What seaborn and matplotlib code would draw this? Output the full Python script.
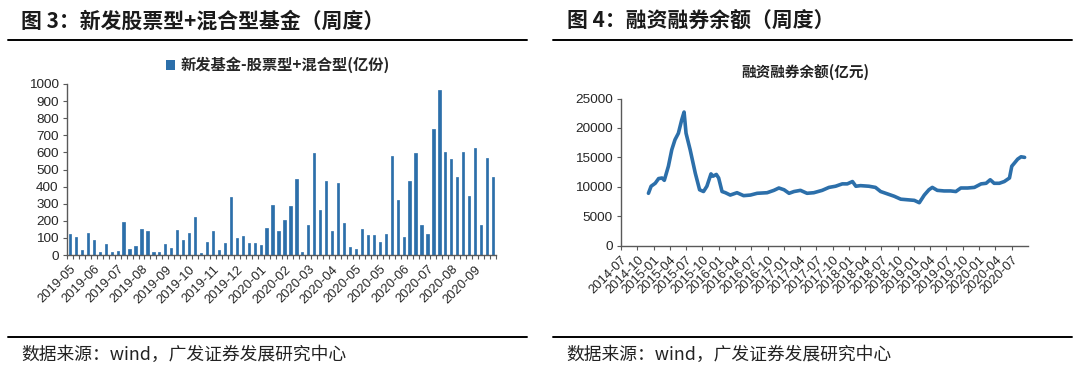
import numpy as np
import pandas as pd
import matplotlib
matplotlib.use("Agg")
import matplotlib.pyplot as plt
from matplotlib.lines import Line2D
from matplotlib.patches import Patch
import seaborn as sns

# ---------------- data ----------------
fund_values = [120, 103, 29, 128, 88, 15, 66, 19, 23, 193, 35, 50, 154, 140, 19, 15,
               62, 39, 146, 86, 131, 220, 13, 78, 138, 27, 72, 337, 99, 111, 72, 70,
               56, 157, 293, 141, 205, 288, 444, 16, 173, 595, 263, 433, 138, 419,
               187, 49, 37, 150, 115, 119, 76, 123, 581, 320, 107, 431, 597, 173,
               123, 737, 965, 602, 559, 458, 602, 345, 624, 177, 565, 454]
fund_tick_labels = ["2019-05", "2019-06", "2019-07", "2019-08", "2019-09", "2019-10",
                    "2019-11", "2019-12", "2020-01", "2020-02", "2020-03", "2020-04",
                    "2020-05", "2020-05", "2020-06", "2020-07", "2020-08", "2020-09"]
fund_label = "新发基金-股票型+混合型(亿份)"

margin_dates = ["2014-12-02", "2014-12-17", "2015-01-09", "2015-01-28", "2015-02-16",
                "2015-03-01", "2015-03-24", "2015-04-12", "2015-04-30", "2015-05-19",
                "2015-06-07", "2015-06-20", "2015-07-01", "2015-07-24", "2015-08-22",
                "2015-09-15", "2015-10-07", "2015-10-26", "2015-11-18", "2015-11-29",
                "2015-12-18", "2015-12-31", "2016-01-19", "2016-02-07", "2016-03-05",
                "2016-04-12", "2016-05-19", "2016-06-26", "2016-08-03", "2016-09-28",
                "2016-11-05", "2016-12-03", "2017-01-01", "2017-01-29", "2017-02-26",
                "2017-04-03", "2017-05-10", "2017-06-17", "2017-08-03", "2017-09-10",
                "2017-10-17", "2017-11-24", "2017-12-22", "2018-01-20", "2018-02-08",
                "2018-03-06", "2018-04-22", "2018-05-29", "2018-06-27", "2018-08-04",
                "2018-09-11", "2018-10-18", "2018-11-25", "2019-01-02", "2019-01-30",
                "2019-02-27", "2019-03-25", "2019-04-13", "2019-05-11", "2019-06-18",
                "2019-07-25", "2019-08-23", "2019-09-20", "2019-10-28", "2019-12-05",
                "2020-01-12", "2020-02-09", "2020-03-03", "2020-03-25", "2020-04-23",
                "2020-05-21", "2020-06-19", "2020-07-02", "2020-07-16", "2020-08-04",
                "2020-08-23", "2020-09-12"]
margin_values = [8900, 10100, 10600, 11400, 11500, 11100, 13500, 16300, 18000, 19100,
                 21400, 22700, 19100, 16300, 12300, 9500, 9200, 10100, 12200, 11800,
                 12100, 11500, 9200, 9000, 8600, 9000, 8500, 8600, 8900, 9000,
                 9400, 9800, 9500, 8900, 9200, 9400, 8900, 9000, 9400, 9900,
                 10100, 10500, 10500, 10900, 10100, 10200, 10100, 9900, 9200, 8800,
                 8400, 7900, 7800, 7700, 7300, 8600, 9500, 9900, 9400, 9300,
                 9300, 9200, 9800, 9800, 9900, 10500, 10600, 11200, 10600, 10600,
                 10900, 11500, 13500, 14000, 14700, 15100, 15000]
margin_tick_labels = ["2014-07", "2014-10", "2015-01", "2015-04", "2015-07", "2015-10",
                      "2016-01", "2016-04", "2016-07", "2016-10", "2017-01", "2017-04",
                      "2017-07", "2017-10", "2018-01", "2018-04", "2018-07", "2018-10",
                      "2019-01", "2019-04", "2019-07", "2019-10", "2020-01", "2020-04",
                      "2020-07"]
margin_title = "融资融券余额(亿元)"

header_left = "图 3：新发股票型+混合型基金（周度）"
header_right = "图 4：融资融券余额（周度）"
source_text = "数据来源：wind，广发证券发展研究中心"

# ---------------- style ----------------
sns.set_theme(style="white")
plt.rcParams["font.family"] = ["Liberation Sans", "Noto Sans CJK SC", "DejaVu Sans"]
BLUE = "#2C6FAA"
AXC = "#595959"
W, H = 1080, 381
cjk = ["Noto Sans CJK SC", "DejaVu Sans"]

fig = plt.figure(figsize=(W / 100, H / 100), dpi=100)
fig.patch.set_facecolor("white")

def fx(px):
    return px / W

def fy(py):
    return 1 - py / H

# ---------------- left chart ----------------
ax1 = fig.add_axes([fx(67), fy(255), fx(496 - 67), (255 - 84) / H])
df_fund = pd.DataFrame({"idx": np.arange(len(fund_values)), "val": fund_values})
sns.barplot(data=df_fund, x="idx", y="val", color=BLUE, width=0.38, ax=ax1,
            saturation=1, edgecolor=BLUE, linewidth=0.5)
ax1.set_xlim(-0.5, len(fund_values) - 0.5)
ax1.set_ylim(0, 1000)
ax1.set_yticks(np.arange(0, 1001, 100))
ax1.set_xticks(np.arange(0, len(fund_values), 4))
ax1.set_xticklabels(fund_tick_labels, rotation=45, ha="right",
                    rotation_mode="anchor", fontsize=9.3)
ax1.set_xticks(np.arange(-0.5, len(fund_values), 1), minor=True)
ax1.tick_params(axis="x", which="major", length=0, pad=6)
ax1.tick_params(axis="x", which="minor", bottom=True, length=3, width=0.8,
                color=AXC, direction="out")
ax1.tick_params(axis="y", left=True, length=3, width=0.8, color=AXC,
                labelsize=9.7, pad=3)
ax1.set_xlabel("")
ax1.set_ylabel("")
for s in ["top", "right"]:
    ax1.spines[s].set_visible(False)
for s in ["left", "bottom"]:
    ax1.spines[s].set_color(AXC)
    ax1.spines[s].set_linewidth(1.0)
ax1.legend(handles=[Patch(facecolor=BLUE, edgecolor="none", label=fund_label)],
           loc="center", bbox_to_anchor=(fx(278), fy(65)),
           bbox_transform=fig.transFigure, frameon=False,
           handlelength=0.6, handleheight=0.6, handletextpad=0.4,
           prop={"family": cjk, "size": 11, "weight": "bold"})

# ---------------- right chart ----------------
ax2 = fig.add_axes([fx(621), fy(245.7), fx(1028 - 621), (245.7 - 98.5) / H])
df_margin = pd.DataFrame({"date": pd.to_datetime(margin_dates), "val": margin_values})
sns.lineplot(data=df_margin, x="date", y="val", color=BLUE, linewidth=2.6, ax=ax2)
ax2.set_xlim(pd.Timestamp("2014-07-01"), pd.Timestamp("2020-10-01"))
ax2.set_ylim(0, 25000)
ax2.set_yticks(np.arange(0, 25001, 5000))
ax2.set_xticks(pd.to_datetime(margin_tick_labels))
ax2.set_xticklabels(margin_tick_labels, rotation=45, ha="right",
                    rotation_mode="anchor", fontsize=9.3)
ax2.tick_params(axis="x", bottom=True, length=3, width=0.8, color=AXC, pad=3)
ax2.tick_params(axis="y", left=True, length=3, width=0.8, color=AXC,
                labelsize=9.7, pad=3)
ax2.set_xlabel("")
ax2.set_ylabel("")
for s in ["top", "right"]:
    ax2.spines[s].set_visible(False)
for s in ["left", "bottom"]:
    ax2.spines[s].set_color(AXC)
    ax2.spines[s].set_linewidth(1.0)
fig.text(fx(805), fy(72), margin_title, ha="center", va="center", fontsize=10.5,
         weight="bold", family=cjk, color="#222222")

# ---------------- headers / footers ----------------
fig.text(fx(21), fy(21), header_left, ha="left", va="center", fontsize=15,
         weight="bold", family=cjk, color="#1a1a1a")
fig.text(fx(567), fy(21), header_right, ha="left", va="center", fontsize=15,
         weight="bold", family=cjk, color="#1a1a1a")
for x0, x1 in [(8, 527), (553, 1072)]:
    fig.add_artist(Line2D([fx(x0), fx(x1)], [fy(40), fy(40)], color="black", lw=1.4))
    fig.add_artist(Line2D([fx(x0), fx(x1)], [fy(337), fy(337)], color="black", lw=1.4))
fig.text(fx(21), fy(355), source_text, ha="left", va="center", fontsize=12.8,
         family=cjk, color="#222222")
fig.text(fx(566), fy(355), source_text, ha="left", va="center", fontsize=12.8,
         family=cjk, color="#222222")

fig.savefig("out.png", dpi=100, facecolor="white")
